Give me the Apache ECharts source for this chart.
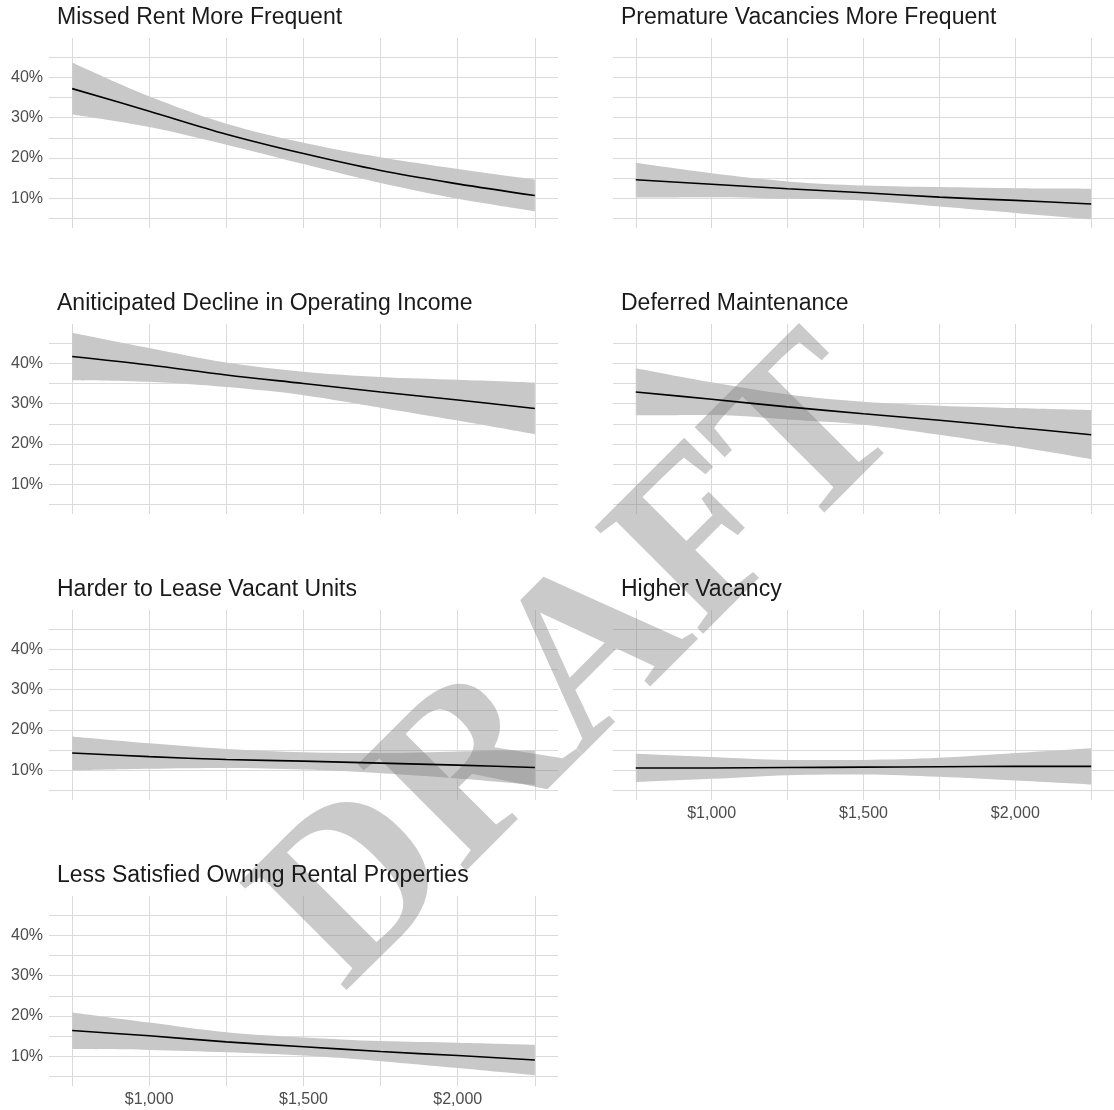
<!DOCTYPE html>
<html>
<head>
<meta charset="utf-8">
<script src="https://cdn.jsdelivr.net/npm/echarts@6/dist/echarts.min.js"></script>
<style>
html,body{margin:0;padding:0;background:#fff;}
#chart{width:1114px;height:1110px;}
</style>
</head>
<body>
<div id="chart"></div>
<script>
// ---- data ----
const rentX = [750, 1000, 1250, 1500, 1750, 2000, 2250];
const panelTitles = [
  "Missed Rent More Frequent",
  "Premature Vacancies More Frequent",
  "Aniticipated Decline in Operating Income",
  "Deferred Maintenance",
  "Harder to Lease Vacant Units",
  "Higher Vacancy",
  "Less Satisfied Owning Rental Properties"
];
const missedFit = [37.2, 31.6, 25.9, 21.1, 16.9, 13.6, 10.7];
const missedLo  = [30.8, 27.7, 23.3, 18.5, 13.8, 9.9, 6.8];
const missedHi  = [43.7, 35.3, 28.5, 23.8, 20.2, 17.3, 14.7];

const prematureFit = [14.6, 13.5, 12.4, 11.4, 10.3, 9.5, 8.6];
const prematureLo  = [10.2, 10.3, 9.9, 9.5, 8.0, 6.4, 4.8];
const prematureHi  = [18.8, 16.2, 14.2, 13.2, 12.8, 12.5, 12.4];

const declineFit = [41.7, 39.6, 37.1, 35.0, 32.9, 30.9, 28.8];
const declineLo  = [35.8, 35.4, 34.1, 32.1, 29.0, 25.8, 22.4];
const declineHi  = [47.6, 43.8, 40.2, 37.9, 36.6, 35.9, 35.2];

const deferredFit = [32.9, 31.1, 29.2, 27.5, 25.9, 24.1, 22.3];
const deferredLo  = [27.1, 27.2, 26.1, 24.8, 22.3, 19.4, 16.3];
const deferredHi  = [38.8, 35.3, 32.3, 30.5, 29.5, 28.9, 28.4];

const harderFit = [14.3, 13.4, 12.7, 12.3, 11.8, 11.3, 10.7];
const harderLo  = [10.0, 10.4, 10.6, 10.2, 9.3, 8.0, 6.4];
const harderHi  = [18.4, 16.7, 15.3, 14.5, 14.3, 14.7, 15.0];

const vacancyFit = [10.6, 10.6, 10.7, 10.8, 10.9, 11.0, 11.0];
const vacancyLo  = [7.1, 7.9, 8.8, 9.0, 8.4, 7.5, 6.5];
const vacancyHi  = [14.1, 13.3, 12.6, 12.6, 13.1, 14.3, 15.5];

const satisfiedFit = [16.4, 15.1, 13.6, 12.4, 11.2, 10.2, 9.1];
const satisfiedLo  = [11.8, 11.6, 11.0, 10.2, 8.8, 7.1, 5.3];
const satisfiedHi  = [20.9, 18.4, 16.0, 14.7, 13.8, 13.4, 12.9];

const xGridValues = [750, 1000, 1250, 1500, 1750, 2000, 2250];
const xLabelValues = [1000, 1500, 2000];
const yGridValues = [5, 10, 15, 20, 25, 30, 35, 40, 45];
const yLabelValues = [10, 20, 30, 40];
const watermarkText = "DRAFT";

const panels = [
  [missedFit, missedLo, missedHi],
  [prematureFit, prematureLo, prematureHi],
  [declineFit, declineLo, declineHi],
  [deferredFit, deferredLo, deferredHi],
  [harderFit, harderLo, harderHi],
  [vacancyFit, vacancyLo, vacancyHi],
  [satisfiedFit, satisfiedLo, satisfiedHi]
];

// ---- layout ----
const colLeft = [49, 613];
const panelW = 509;
const rowTop = [38, 324, 610, 896];
const panelH = 190;
const xMin = 675, xMax = 2325;
const yMin = 2.66, yMax = 49.74;
const gridColor = '#dadada';
const font = '"Liberation Sans", Arial, Helvetica, sans-serif';

const grids = [], xAxes = [], yAxes = [], series = [], graphics = [];
panels.forEach((p, i) => {
  const row = Math.floor(i / 2), col = i % 2;
  grids.push({left: colLeft[col], top: rowTop[row], width: panelW, height: panelH});
  const showX = (i === 5 || i === 6);
  xAxes.push({
    type: 'value', gridIndex: i, min: xMin, max: xMax,
    axisLine: {show: false},
    axisTick: {show: false, customValues: xGridValues},
    axisLabel: {show: showX, customValues: xLabelValues, margin: 6,
      fontSize: 16, color: '#4d4d4d', fontFamily: font,
      formatter: v => '$' + v.toLocaleString('en-US')},
    splitLine: {show: true, lineStyle: {color: gridColor, width: 1}}
  });
  yAxes.push({
    type: 'value', gridIndex: i, min: yMin, max: yMax,
    axisLine: {show: false},
    axisTick: {show: false, customValues: yGridValues},
    axisLabel: {show: col === 0, customValues: yLabelValues, margin: 6,
      fontSize: 16, color: '#4d4d4d', fontFamily: font,
      formatter: v => v + '%'},
    splitLine: {show: true, lineStyle: {color: gridColor, width: 1}}
  });
  const [fit, lo, hi] = p;
  // band: value first so stacking applies to the y dimension
  series.push({
    type: 'line', xAxisIndex: i, yAxisIndex: i, stack: 'band' + i,
    encode: {x: 1, y: 0},
    data: rentX.map((x, k) => [lo[k], x]),
    symbol: 'none', smooth: 0.35, lineStyle: {opacity: 0}, silent: true, z: 2
  });
  series.push({
    type: 'line', xAxisIndex: i, yAxisIndex: i, stack: 'band' + i,
    encode: {x: 1, y: 0},
    data: rentX.map((x, k) => [hi[k] - lo[k], x]),
    symbol: 'none', smooth: 0.35, lineStyle: {opacity: 0},
    areaStyle: {color: 'rgb(200,200,200)', opacity: 1}, silent: true, z: 2
  });
  series.push({
    type: 'line', xAxisIndex: i, yAxisIndex: i,
    data: rentX.map((x, k) => [x, fit[k]]),
    symbol: 'none', smooth: 0.35, lineStyle: {color: '#000', width: 1.6}, silent: true, z: 4
  });
  graphics.push({
    type: 'text', x: colLeft[col] + 8, y: rowTop[row] - 20, z: 10,
    style: {text: panelTitles[i], fontSize: 23, fill: '#1a1a1a', fontFamily: font,
      verticalAlign: 'middle'}
  });
});

graphics.push({
  type: 'text', x: 584, y: 668, rotation: Math.PI / 4, z: 3,
  style: {text: watermarkText, fontSize: 232, fontWeight: 'bold',
    fill: 'rgba(128,128,128,0.42)',
    fontFamily: '"Liberation Serif", "Times New Roman", serif',
    align: 'center', verticalAlign: 'middle'}
});

const chart = echarts.init(document.getElementById('chart'), null, {renderer: 'canvas'});
chart.setOption({
  animation: false,
  backgroundColor: '#fff',
  grid: grids, xAxis: xAxes, yAxis: yAxes, series: series,
  graphic: graphics
});
</script>
</body>
</html>
